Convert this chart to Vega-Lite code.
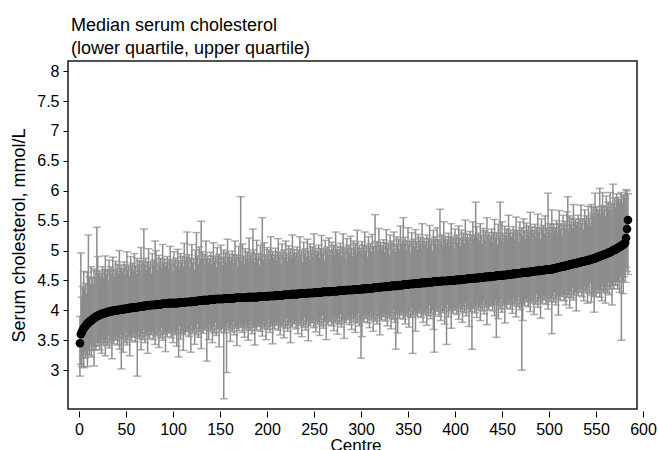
{
"$schema":"https://vega.github.io/schema/vega-lite/v6.json",
"width":569,"height":348,
"autosize":{"type":"none"},
"padding":{"left":68,"top":61,"right":21,"bottom":41},
"background":"white",
"config":{"font":"Liberation Sans","view":{"stroke":"#1a1a1a","strokeWidth":1.5},
 "axis":{"domain":false,"grid":false,"tickColor":"#000","tickWidth":1,"tickSize":6,"labelColor":"#000","labelFontSize":16,"titleColor":"#000","titleFontSize":17,"titleFontWeight":"normal","labelFont":"Liberation Sans","titleFont":"Liberation Sans","labelOverlap":false}},
"title":{"text":["Median serum cholesterol","(lower quartile, upper quartile)"],"anchor":"start","frame":"group","fontSize":18,"fontWeight":"normal","font":"Liberation Sans","color":"#000","offset":3,"lineHeight":23,"dx":3},
"data":{"values":[
{"c":1,"m":3.45,"l":2.90,"u":3.90},{"c":2,"m":3.60,"l":3.10,"u":4.96},{"c":3,"m":3.64,"l":3.06,"u":4.22},{"c":4,"m":3.67,"l":3.20,"u":4.40},{"c":5,"m":3.70,"l":3.04,"u":4.65},{"c":6,"m":3.72,"l":3.31,"u":4.36},{"c":7,"m":3.74,"l":3.21,"u":4.45},{"c":8,"m":3.76,"l":3.27,"u":4.28},{"c":9,"m":3.78,"l":3.06,"u":4.64},{"c":10,"m":3.79,"l":3.34,"u":5.26},
{"c":11,"m":3.81,"l":3.25,"u":4.56},{"c":12,"m":3.82,"l":3.43,"u":4.43},{"c":13,"m":3.83,"l":3.22,"u":4.73},{"c":14,"m":3.84,"l":3.33,"u":4.54},{"c":15,"m":3.86,"l":3.40,"u":4.42},{"c":16,"m":3.87,"l":3.07,"u":4.69},{"c":17,"m":3.88,"l":3.40,"u":4.54},{"c":18,"m":3.89,"l":3.34,"u":4.66},{"c":19,"m":3.90,"l":3.47,"u":5.39},{"c":20,"m":3.91,"l":3.41,"u":4.90},
{"c":21,"m":3.92,"l":3.48,"u":4.61},{"c":22,"m":3.92,"l":3.34,"u":4.66},{"c":23,"m":3.93,"l":3.46,"u":4.56},{"c":24,"m":3.94,"l":3.28,"u":4.62},{"c":25,"m":3.94,"l":3.53,"u":4.73},{"c":26,"m":3.95,"l":3.42,"u":4.53},{"c":27,"m":3.95,"l":3.46,"u":4.68},{"c":28,"m":3.96,"l":3.24,"u":4.91},{"c":29,"m":3.96,"l":3.51,"u":4.60},{"c":30,"m":3.97,"l":3.41,"u":4.68},
{"c":31,"m":3.97,"l":3.58,"u":4.49},{"c":32,"m":3.98,"l":3.37,"u":4.84},{"c":33,"m":3.98,"l":3.47,"u":4.65},{"c":34,"m":3.98,"l":3.52,"u":4.73},{"c":35,"m":3.99,"l":3.19,"u":4.60},{"c":36,"m":3.99,"l":3.51,"u":4.89},{"c":37,"m":3.99,"l":3.44,"u":4.69},{"c":38,"m":4.00,"l":3.57,"u":4.56},{"c":39,"m":4.00,"l":3.50,"u":4.82},{"c":40,"m":4.00,"l":3.56,"u":4.66},
{"c":41,"m":4.00,"l":3.42,"u":4.77},{"c":42,"m":4.01,"l":3.54,"u":4.61},{"c":43,"m":4.01,"l":3.35,"u":5.00},{"c":44,"m":4.01,"l":3.60,"u":4.70},{"c":45,"m":4.01,"l":3.02,"u":4.75},{"c":46,"m":4.02,"l":3.53,"u":4.65},{"c":47,"m":4.02,"l":3.30,"u":4.70},{"c":48,"m":4.02,"l":3.57,"u":4.81},{"c":49,"m":4.02,"l":3.46,"u":4.60},{"c":50,"m":4.03,"l":3.64,"u":4.76},
{"c":51,"m":4.03,"l":3.42,"u":4.98},{"c":52,"m":4.03,"l":3.52,"u":4.67},{"c":53,"m":4.03,"l":3.57,"u":4.74},{"c":54,"m":4.04,"l":3.24,"u":4.56},{"c":55,"m":4.04,"l":3.56,"u":4.90},{"c":56,"m":4.04,"l":3.49,"u":4.71},{"c":57,"m":4.04,"l":3.61,"u":4.79},{"c":58,"m":4.05,"l":3.55,"u":4.66},{"c":59,"m":4.05,"l":3.61,"u":4.95},{"c":60,"m":4.05,"l":3.47,"u":4.75},
{"c":61,"m":4.05,"l":3.58,"u":4.61},{"c":62,"m":4.05,"l":2.90,"u":4.87},{"c":63,"m":4.06,"l":3.65,"u":4.72},{"c":64,"m":4.06,"l":3.53,"u":4.83},{"c":65,"m":4.06,"l":3.57,"u":4.66},{"c":66,"m":4.06,"l":3.34,"u":5.05},{"c":67,"m":4.07,"l":3.62,"u":4.76},{"c":68,"m":4.07,"l":3.51,"u":4.81},{"c":69,"m":4.07,"l":3.68,"u":5.36},{"c":70,"m":4.07,"l":3.46,"u":4.75},
{"c":71,"m":4.08,"l":3.57,"u":4.87},{"c":72,"m":4.08,"l":3.62,"u":4.66},{"c":73,"m":4.08,"l":3.28,"u":4.81},{"c":74,"m":4.08,"l":3.60,"u":5.03},{"c":75,"m":4.08,"l":3.53,"u":4.72},{"c":76,"m":4.09,"l":3.66,"u":4.80},{"c":77,"m":4.09,"l":3.59,"u":4.61},{"c":78,"m":4.09,"l":3.65,"u":4.95},{"c":79,"m":4.09,"l":3.51,"u":4.76},{"c":80,"m":4.09,"l":3.62,"u":4.84},
{"c":81,"m":4.09,"l":3.43,"u":5.16},{"c":82,"m":4.10,"l":3.69,"u":5.00},{"c":83,"m":4.10,"l":3.57,"u":4.80},{"c":84,"m":4.10,"l":3.61,"u":4.66},{"c":85,"m":4.10,"l":3.38,"u":4.92},{"c":86,"m":4.10,"l":3.65,"u":4.76},{"c":87,"m":4.10,"l":3.54,"u":4.87},{"c":88,"m":4.11,"l":3.72,"u":4.71},{"c":89,"m":4.11,"l":3.50,"u":5.10},{"c":90,"m":4.11,"l":3.60,"u":4.80},
{"c":91,"m":4.11,"l":3.65,"u":4.85},{"c":92,"m":4.11,"l":3.31,"u":4.74},{"c":93,"m":4.11,"l":3.63,"u":4.79},{"c":94,"m":4.11,"l":3.56,"u":4.90},{"c":95,"m":4.12,"l":3.69,"u":4.70},{"c":96,"m":4.12,"l":3.62,"u":4.85},{"c":97,"m":4.12,"l":3.68,"u":5.07},{"c":98,"m":4.12,"l":3.54,"u":4.76},{"c":99,"m":4.12,"l":3.65,"u":4.83},{"c":100,"m":4.12,"l":3.46,"u":4.64},
{"c":101,"m":4.12,"l":3.71,"u":4.98},{"c":102,"m":4.12,"l":3.59,"u":4.79},{"c":103,"m":4.12,"l":3.63,"u":4.87},{"c":104,"m":4.12,"l":3.40,"u":4.73},{"c":105,"m":4.12,"l":3.67,"u":5.02},{"c":106,"m":4.13,"l":3.22,"u":4.83},{"c":107,"m":4.13,"l":3.74,"u":4.69},{"c":108,"m":4.13,"l":3.52,"u":4.95},{"c":109,"m":4.13,"l":3.62,"u":4.79},{"c":110,"m":4.13,"l":3.67,"u":4.90},
{"c":111,"m":4.13,"l":3.33,"u":4.73},{"c":112,"m":4.13,"l":3.65,"u":5.12},{"c":113,"m":4.14,"l":3.59,"u":4.83},{"c":114,"m":4.14,"l":3.71,"u":4.88},{"c":115,"m":4.14,"l":3.64,"u":5.31},{"c":116,"m":4.14,"l":3.70,"u":4.82},{"c":117,"m":4.14,"l":3.56,"u":4.93},{"c":118,"m":4.14,"l":3.67,"u":4.72},{"c":119,"m":4.14,"l":3.30,"u":4.87},{"c":120,"m":4.15,"l":3.74,"u":5.10},
{"c":121,"m":4.15,"l":3.62,"u":4.79},{"c":122,"m":4.15,"l":3.66,"u":4.86},{"c":123,"m":4.15,"l":3.43,"u":4.67},{"c":124,"m":4.15,"l":3.70,"u":5.01},{"c":125,"m":4.15,"l":3.59,"u":5.30},{"c":126,"m":4.16,"l":3.77,"u":4.91},{"c":127,"m":4.16,"l":3.55,"u":4.77},{"c":128,"m":4.16,"l":3.65,"u":5.06},{"c":129,"m":4.16,"l":3.70,"u":4.86},{"c":130,"m":4.16,"l":3.36,"u":5.49},
{"c":131,"m":4.16,"l":3.68,"u":4.98},{"c":132,"m":4.17,"l":3.62,"u":4.83},{"c":133,"m":4.17,"l":3.74,"u":4.94},{"c":134,"m":4.17,"l":3.67,"u":4.77},{"c":135,"m":4.17,"l":3.73,"u":5.16},{"c":136,"m":4.17,"l":3.15,"u":4.86},{"c":137,"m":4.17,"l":3.70,"u":4.91},{"c":138,"m":4.17,"l":3.51,"u":4.80},{"c":139,"m":4.18,"l":3.77,"u":4.86},{"c":140,"m":4.18,"l":3.65,"u":4.97},
{"c":141,"m":4.18,"l":3.69,"u":4.76},{"c":142,"m":4.18,"l":3.46,"u":4.91},{"c":143,"m":4.18,"l":3.73,"u":5.13},{"c":144,"m":4.18,"l":3.62,"u":4.82},{"c":145,"m":4.19,"l":3.80,"u":4.90},{"c":146,"m":4.19,"l":3.58,"u":4.71},{"c":147,"m":4.19,"l":3.68,"u":5.05},{"c":148,"m":4.19,"l":3.73,"u":4.86},{"c":149,"m":4.19,"l":3.39,"u":4.94},{"c":150,"m":4.19,"l":3.71,"u":4.80},
{"c":151,"m":4.19,"l":3.64,"u":5.09},{"c":152,"m":4.19,"l":3.76,"u":4.89},{"c":153,"m":4.19,"l":3.69,"u":4.75},{"c":154,"m":4.19,"l":2.52,"u":5.01},{"c":155,"m":4.20,"l":3.62,"u":4.86},{"c":156,"m":4.20,"l":3.73,"u":4.97},{"c":157,"m":4.20,"l":2.96,"u":4.80},{"c":158,"m":4.20,"l":3.79,"u":5.19},{"c":159,"m":4.20,"l":3.67,"u":4.89},{"c":160,"m":4.20,"l":3.71,"u":4.94},
{"c":161,"m":4.20,"l":3.48,"u":4.83},{"c":162,"m":4.20,"l":3.75,"u":4.88},{"c":163,"m":4.20,"l":3.64,"u":4.99},{"c":164,"m":4.20,"l":3.81,"u":4.78},{"c":165,"m":4.20,"l":3.59,"u":4.93},{"c":166,"m":4.21,"l":3.70,"u":5.16},{"c":167,"m":4.21,"l":3.75,"u":4.85},{"c":168,"m":4.21,"l":3.41,"u":4.92},{"c":169,"m":4.21,"l":3.73,"u":4.73},{"c":170,"m":4.21,"l":3.66,"u":5.07},
{"c":171,"m":4.21,"l":3.78,"u":4.88},{"c":172,"m":4.21,"l":3.71,"u":5.90},{"c":173,"m":4.21,"l":3.77,"u":4.82},{"c":174,"m":4.21,"l":3.63,"u":5.11},{"c":175,"m":4.21,"l":3.74,"u":4.91},{"c":176,"m":4.21,"l":3.55,"u":4.77},{"c":177,"m":4.21,"l":3.80,"u":5.03},{"c":178,"m":4.21,"l":3.68,"u":4.87},{"c":179,"m":4.21,"l":3.72,"u":4.98},{"c":180,"m":4.22,"l":3.50,"u":4.82},
{"c":181,"m":4.22,"l":3.77,"u":5.21},{"c":182,"m":4.22,"l":3.66,"u":4.91},{"c":183,"m":4.22,"l":3.83,"u":4.96},{"c":184,"m":4.22,"l":3.61,"u":4.85},{"c":185,"m":4.22,"l":3.71,"u":5.36},{"c":186,"m":4.22,"l":3.76,"u":5.01},{"c":187,"m":4.22,"l":3.42,"u":4.80},{"c":188,"m":4.22,"l":3.74,"u":4.95},{"c":189,"m":4.22,"l":3.67,"u":5.17},{"c":190,"m":4.22,"l":3.79,"u":4.86},
{"c":191,"m":4.23,"l":3.73,"u":4.94},{"c":192,"m":4.23,"l":3.79,"u":4.75},{"c":193,"m":4.23,"l":3.65,"u":5.09},{"c":194,"m":4.23,"l":3.76,"u":4.90},{"c":195,"m":4.23,"l":3.57,"u":5.55},{"c":196,"m":4.23,"l":3.82,"u":4.84},{"c":197,"m":4.23,"l":3.70,"u":5.13},{"c":198,"m":4.23,"l":3.74,"u":4.93},{"c":199,"m":4.23,"l":3.51,"u":4.79},{"c":200,"m":4.23,"l":3.78,"u":5.05},
{"c":201,"m":4.24,"l":3.68,"u":4.90},{"c":202,"m":4.24,"l":3.85,"u":5.01},{"c":203,"m":4.24,"l":3.63,"u":4.84},{"c":204,"m":4.24,"l":3.73,"u":5.23},{"c":205,"m":4.24,"l":3.78,"u":4.93},{"c":206,"m":4.24,"l":3.44,"u":4.98},{"c":207,"m":4.24,"l":3.76,"u":4.87},{"c":208,"m":4.24,"l":3.69,"u":4.92},{"c":209,"m":4.25,"l":3.82,"u":5.04},{"c":210,"m":4.25,"l":3.75,"u":4.83},
{"c":211,"m":4.25,"l":3.81,"u":4.98},{"c":212,"m":4.25,"l":3.67,"u":5.20},{"c":213,"m":4.25,"l":3.78,"u":4.89},{"c":214,"m":4.25,"l":3.59,"u":4.96},{"c":215,"m":4.25,"l":3.84,"u":4.77},{"c":216,"m":4.25,"l":3.72,"u":5.11},{"c":217,"m":4.25,"l":3.76,"u":4.92},{"c":218,"m":4.26,"l":3.54,"u":5.01},{"c":219,"m":4.26,"l":3.81,"u":4.87},{"c":220,"m":4.26,"l":3.70,"u":5.16},
{"c":221,"m":4.26,"l":3.87,"u":4.96},{"c":222,"m":4.26,"l":3.65,"u":4.82},{"c":223,"m":4.26,"l":3.75,"u":5.08},{"c":224,"m":4.26,"l":3.80,"u":4.92},{"c":225,"m":4.26,"l":3.46,"u":5.03},{"c":226,"m":4.27,"l":3.79,"u":4.87},{"c":227,"m":4.27,"l":3.72,"u":5.26},{"c":228,"m":4.27,"l":3.84,"u":4.96},{"c":229,"m":4.27,"l":3.77,"u":5.01},{"c":230,"m":4.27,"l":3.83,"u":4.90},
{"c":231,"m":4.27,"l":3.69,"u":4.95},{"c":232,"m":4.27,"l":3.80,"u":5.06},{"c":233,"m":4.27,"l":3.61,"u":4.85},{"c":234,"m":4.28,"l":3.87,"u":5.01},{"c":235,"m":4.28,"l":3.75,"u":5.23},{"c":236,"m":4.28,"l":3.79,"u":4.92},{"c":237,"m":4.28,"l":3.56,"u":4.99},{"c":238,"m":4.28,"l":3.83,"u":4.80},{"c":239,"m":4.28,"l":3.72,"u":5.14},{"c":240,"m":4.28,"l":3.89,"u":4.95},
{"c":241,"m":4.28,"l":3.67,"u":5.03},{"c":242,"m":4.28,"l":3.77,"u":4.89},{"c":243,"m":4.29,"l":3.83,"u":5.19},{"c":244,"m":4.29,"l":3.49,"u":4.99},{"c":245,"m":4.29,"l":3.81,"u":4.85},{"c":246,"m":4.29,"l":3.74,"u":5.11},{"c":247,"m":4.29,"l":3.86,"u":4.95},{"c":248,"m":4.29,"l":3.79,"u":5.06},{"c":249,"m":4.29,"l":3.85,"u":4.89},{"c":250,"m":4.29,"l":3.71,"u":5.28},
{"c":251,"m":4.30,"l":3.83,"u":4.99},{"c":252,"m":4.30,"l":3.64,"u":5.04},{"c":253,"m":4.30,"l":3.89,"u":4.93},{"c":254,"m":4.30,"l":3.77,"u":4.98},{"c":255,"m":4.30,"l":3.81,"u":5.09},{"c":256,"m":4.30,"l":3.58,"u":4.88},{"c":257,"m":4.30,"l":3.85,"u":5.03},{"c":258,"m":4.30,"l":3.74,"u":5.25},{"c":259,"m":4.31,"l":3.92,"u":4.95},{"c":260,"m":4.31,"l":3.70,"u":5.02},
{"c":261,"m":4.31,"l":3.80,"u":4.83},{"c":262,"m":4.31,"l":3.85,"u":5.17},{"c":263,"m":4.31,"l":3.51,"u":4.98},{"c":264,"m":4.31,"l":3.83,"u":5.06},{"c":265,"m":4.31,"l":3.76,"u":4.92},{"c":266,"m":4.31,"l":3.88,"u":5.21},{"c":267,"m":4.31,"l":3.81,"u":5.01},{"c":268,"m":4.32,"l":3.88,"u":4.88},{"c":269,"m":4.32,"l":3.74,"u":5.14},{"c":270,"m":4.32,"l":3.85,"u":4.98},
{"c":271,"m":4.32,"l":3.66,"u":5.09},{"c":272,"m":4.32,"l":3.91,"u":4.92},{"c":273,"m":4.32,"l":3.79,"u":5.31},{"c":274,"m":4.32,"l":3.83,"u":5.01},{"c":275,"m":4.32,"l":3.60,"u":5.06},{"c":276,"m":4.33,"l":3.88,"u":4.96},{"c":277,"m":4.33,"l":3.77,"u":5.01},{"c":278,"m":4.33,"l":3.94,"u":5.12},{"c":279,"m":4.33,"l":3.72,"u":4.91},{"c":280,"m":4.33,"l":3.82,"u":5.06},
{"c":281,"m":4.33,"l":3.87,"u":5.28},{"c":282,"m":4.33,"l":3.53,"u":4.97},{"c":283,"m":4.33,"l":3.85,"u":5.04},{"c":284,"m":4.34,"l":3.79,"u":4.86},{"c":285,"m":4.34,"l":3.91,"u":5.20},{"c":286,"m":4.34,"l":3.84,"u":5.01},{"c":287,"m":4.34,"l":3.90,"u":5.09},{"c":288,"m":4.34,"l":3.76,"u":4.95},{"c":289,"m":4.34,"l":3.87,"u":5.24},{"c":290,"m":4.34,"l":3.68,"u":5.04},
{"c":291,"m":4.34,"l":3.93,"u":4.90},{"c":292,"m":4.34,"l":3.81,"u":5.16},{"c":293,"m":4.35,"l":3.86,"u":5.01},{"c":294,"m":4.35,"l":3.63,"u":5.12},{"c":295,"m":4.35,"l":3.90,"u":4.95},{"c":296,"m":4.35,"l":3.79,"u":5.34},{"c":297,"m":4.35,"l":3.96,"u":5.04},{"c":298,"m":4.35,"l":3.74,"u":5.09},{"c":299,"m":4.35,"l":3.84,"u":4.98},{"c":300,"m":4.35,"l":3.20,"u":5.03},
{"c":301,"m":4.36,"l":3.56,"u":5.15},{"c":302,"m":4.36,"l":3.88,"u":4.94},{"c":303,"m":4.36,"l":3.81,"u":5.09},{"c":304,"m":4.36,"l":3.93,"u":5.31},{"c":305,"m":4.36,"l":3.86,"u":5.00},{"c":306,"m":4.36,"l":3.92,"u":5.07},{"c":307,"m":4.37,"l":3.79,"u":4.89},{"c":308,"m":4.37,"l":3.90,"u":5.23},{"c":309,"m":4.37,"l":3.71,"u":5.04},{"c":310,"m":4.37,"l":3.96,"u":5.12},
{"c":311,"m":4.37,"l":3.84,"u":4.98},{"c":312,"m":4.37,"l":3.88,"u":5.27},{"c":313,"m":4.37,"l":3.65,"u":5.07},{"c":314,"m":4.38,"l":3.93,"u":4.94},{"c":315,"m":4.38,"l":3.82,"u":5.60},{"c":316,"m":4.38,"l":3.99,"u":5.04},{"c":317,"m":4.38,"l":3.77,"u":5.15},{"c":318,"m":4.38,"l":3.87,"u":4.98},{"c":319,"m":4.38,"l":3.92,"u":5.37},{"c":320,"m":4.39,"l":3.59,"u":5.08},
{"c":321,"m":4.39,"l":3.91,"u":5.13},{"c":322,"m":4.39,"l":3.84,"u":5.02},{"c":323,"m":4.39,"l":3.96,"u":5.07},{"c":324,"m":4.39,"l":3.89,"u":5.18},{"c":325,"m":4.39,"l":3.95,"u":4.97},{"c":326,"m":4.40,"l":3.82,"u":5.13},{"c":327,"m":4.40,"l":3.93,"u":5.35},{"c":328,"m":4.40,"l":3.74,"u":5.04},{"c":329,"m":4.40,"l":3.99,"u":5.11},{"c":330,"m":4.40,"l":3.87,"u":4.92},
{"c":331,"m":4.40,"l":3.91,"u":5.26},{"c":332,"m":4.41,"l":3.69,"u":5.08},{"c":333,"m":4.41,"l":3.96,"u":5.16},{"c":334,"m":4.41,"l":3.85,"u":5.02},{"c":335,"m":4.41,"l":4.02,"u":5.31},{"c":336,"m":4.41,"l":3.80,"u":5.11},{"c":337,"m":4.41,"l":3.35,"u":4.97},{"c":338,"m":4.41,"l":3.95,"u":5.23},{"c":339,"m":4.42,"l":3.62,"u":5.08},{"c":340,"m":4.42,"l":3.94,"u":5.19},
{"c":341,"m":4.42,"l":3.87,"u":5.02},{"c":342,"m":4.42,"l":3.99,"u":5.41},{"c":343,"m":4.42,"l":3.92,"u":5.11},{"c":344,"m":4.42,"l":3.98,"u":5.16},{"c":345,"m":4.43,"l":3.85,"u":5.55},{"c":346,"m":4.43,"l":3.96,"u":5.11},{"c":347,"m":4.43,"l":3.77,"u":5.22},{"c":348,"m":4.43,"l":4.02,"u":5.01},{"c":349,"m":4.43,"l":3.90,"u":5.16},{"c":350,"m":4.43,"l":3.94,"u":5.38},
{"c":351,"m":4.44,"l":3.72,"u":5.08},{"c":352,"m":4.44,"l":3.99,"u":5.15},{"c":353,"m":4.44,"l":3.88,"u":4.96},{"c":354,"m":4.44,"l":4.05,"u":5.30},{"c":355,"m":4.44,"l":3.28,"u":5.11},{"c":356,"m":4.44,"l":3.93,"u":5.19},{"c":357,"m":4.45,"l":3.99,"u":5.06},{"c":358,"m":4.45,"l":3.65,"u":5.35},{"c":359,"m":4.45,"l":3.97,"u":5.15},{"c":360,"m":4.45,"l":3.90,"u":5.01},
{"c":361,"m":4.45,"l":4.02,"u":5.27},{"c":362,"m":4.45,"l":3.95,"u":5.11},{"c":363,"m":4.45,"l":4.01,"u":5.22},{"c":364,"m":4.46,"l":3.88,"u":5.06},{"c":365,"m":4.46,"l":3.99,"u":5.45},{"c":366,"m":4.46,"l":3.80,"u":5.15},{"c":367,"m":4.46,"l":4.05,"u":5.20},{"c":368,"m":4.46,"l":3.93,"u":5.09},{"c":369,"m":4.46,"l":3.97,"u":5.14},{"c":370,"m":4.47,"l":3.75,"u":5.26},
{"c":371,"m":4.47,"l":4.02,"u":5.05},{"c":372,"m":4.47,"l":3.91,"u":5.20},{"c":373,"m":4.47,"l":4.08,"u":5.42},{"c":374,"m":4.47,"l":3.86,"u":5.11},{"c":375,"m":4.47,"l":3.96,"u":5.18},{"c":376,"m":4.47,"l":4.01,"u":4.99},{"c":377,"m":4.48,"l":3.68,"u":5.34},{"c":378,"m":4.48,"l":3.30,"u":5.15},{"c":379,"m":4.48,"l":3.93,"u":5.23},{"c":380,"m":4.48,"l":4.05,"u":5.09},
{"c":381,"m":4.48,"l":3.98,"u":5.38},{"c":382,"m":4.48,"l":4.04,"u":5.18},{"c":383,"m":4.48,"l":3.90,"u":5.04},{"c":384,"m":4.48,"l":4.01,"u":5.69},{"c":385,"m":4.49,"l":3.83,"u":5.15},{"c":386,"m":4.49,"l":4.08,"u":5.26},{"c":387,"m":4.49,"l":3.96,"u":5.09},{"c":388,"m":4.49,"l":4.00,"u":5.48},{"c":389,"m":4.49,"l":3.77,"u":5.18},{"c":390,"m":4.49,"l":4.04,"u":5.23},
{"c":391,"m":4.49,"l":3.43,"u":5.12},{"c":392,"m":4.49,"l":4.10,"u":5.17},{"c":393,"m":4.50,"l":3.89,"u":5.29},{"c":394,"m":4.50,"l":3.99,"u":5.08},{"c":395,"m":4.50,"l":4.04,"u":5.23},{"c":396,"m":4.50,"l":3.70,"u":5.45},{"c":397,"m":4.50,"l":4.02,"u":5.14},{"c":398,"m":4.50,"l":3.95,"u":5.21},{"c":399,"m":4.50,"l":4.07,"u":5.02},{"c":400,"m":4.50,"l":4.00,"u":5.36},
{"c":401,"m":4.51,"l":4.07,"u":5.18},{"c":402,"m":4.51,"l":3.93,"u":5.26},{"c":403,"m":4.51,"l":4.04,"u":5.12},{"c":404,"m":4.51,"l":3.85,"u":5.41},{"c":405,"m":4.51,"l":4.10,"u":5.21},{"c":406,"m":4.51,"l":3.98,"u":5.07},{"c":407,"m":4.52,"l":4.03,"u":5.34},{"c":408,"m":4.52,"l":3.80,"u":5.18},{"c":409,"m":4.52,"l":4.07,"u":5.29},{"c":410,"m":4.52,"l":3.96,"u":5.12},
{"c":411,"m":4.52,"l":4.13,"u":5.51},{"c":412,"m":4.52,"l":3.91,"u":5.21},{"c":413,"m":4.53,"l":4.02,"u":5.27},{"c":414,"m":4.53,"l":4.07,"u":5.16},{"c":415,"m":4.53,"l":3.73,"u":5.21},{"c":416,"m":4.53,"l":4.05,"u":5.32},{"c":417,"m":4.53,"l":3.98,"u":5.11},{"c":418,"m":4.53,"l":3.35,"u":5.26},{"c":419,"m":4.53,"l":4.03,"u":5.48},{"c":420,"m":4.54,"l":4.10,"u":5.18},
{"c":421,"m":4.54,"l":3.96,"u":5.25},{"c":422,"m":4.54,"l":4.07,"u":5.81},{"c":423,"m":4.54,"l":3.88,"u":5.40},{"c":424,"m":4.54,"l":4.13,"u":5.21},{"c":425,"m":4.54,"l":4.01,"u":5.29},{"c":426,"m":4.55,"l":4.06,"u":5.16},{"c":427,"m":4.55,"l":3.83,"u":5.45},{"c":428,"m":4.55,"l":4.10,"u":5.25},{"c":429,"m":4.55,"l":3.99,"u":5.11},{"c":430,"m":4.55,"l":4.16,"u":5.37},
{"c":431,"m":4.55,"l":3.94,"u":5.21},{"c":432,"m":4.56,"l":4.05,"u":5.33},{"c":433,"m":4.56,"l":4.10,"u":5.16},{"c":434,"m":4.56,"l":3.76,"u":5.55},{"c":435,"m":4.56,"l":4.08,"u":5.25},{"c":436,"m":4.56,"l":4.01,"u":5.30},{"c":437,"m":4.56,"l":4.13,"u":5.19},{"c":438,"m":4.57,"l":4.07,"u":5.25},{"c":439,"m":4.57,"l":4.13,"u":5.36},{"c":440,"m":4.57,"l":3.99,"u":5.15},
{"c":441,"m":4.57,"l":4.10,"u":5.30},{"c":442,"m":4.57,"l":3.91,"u":5.52},{"c":443,"m":4.57,"l":4.16,"u":5.21},{"c":444,"m":4.58,"l":3.55,"u":5.29},{"c":445,"m":4.58,"l":4.09,"u":5.10},{"c":446,"m":4.58,"l":3.86,"u":5.44},{"c":447,"m":4.58,"l":4.13,"u":5.25},{"c":448,"m":4.58,"l":4.02,"u":5.81},{"c":449,"m":4.58,"l":4.19,"u":5.19},{"c":450,"m":4.58,"l":3.97,"u":5.48},
{"c":451,"m":4.59,"l":4.08,"u":5.29},{"c":452,"m":4.59,"l":4.13,"u":5.15},{"c":453,"m":4.59,"l":3.79,"u":5.41},{"c":454,"m":4.59,"l":4.11,"u":5.25},{"c":455,"m":4.59,"l":4.04,"u":5.36},{"c":456,"m":4.60,"l":4.17,"u":5.20},{"c":457,"m":4.60,"l":4.10,"u":5.59},{"c":458,"m":4.60,"l":4.16,"u":5.29},{"c":459,"m":4.60,"l":4.02,"u":5.34},{"c":460,"m":4.60,"l":4.13,"u":5.23},
{"c":461,"m":4.61,"l":3.95,"u":5.29},{"c":462,"m":4.61,"l":4.20,"u":5.40},{"c":463,"m":4.61,"l":4.08,"u":5.19},{"c":464,"m":4.61,"l":4.12,"u":5.34},{"c":465,"m":4.61,"l":3.89,"u":5.56},{"c":466,"m":4.62,"l":4.17,"u":5.26},{"c":467,"m":4.62,"l":4.06,"u":5.33},{"c":468,"m":4.62,"l":4.23,"u":5.14},{"c":469,"m":4.62,"l":4.01,"u":5.48},{"c":470,"m":4.62,"l":4.11,"u":5.29},
{"c":471,"m":4.63,"l":3.00,"u":5.38},{"c":472,"m":4.63,"l":3.83,"u":5.24},{"c":473,"m":4.63,"l":4.15,"u":5.53},{"c":474,"m":4.63,"l":4.08,"u":5.33},{"c":475,"m":4.63,"l":4.20,"u":5.19},{"c":476,"m":4.64,"l":4.14,"u":5.46},{"c":477,"m":4.64,"l":4.20,"u":5.30},{"c":478,"m":4.64,"l":4.06,"u":5.41},{"c":479,"m":4.64,"l":4.17,"u":5.24},{"c":480,"m":4.64,"l":3.98,"u":5.64},
{"c":481,"m":4.65,"l":4.24,"u":5.34},{"c":482,"m":4.65,"l":4.12,"u":5.39},{"c":483,"m":4.65,"l":4.16,"u":5.28},{"c":484,"m":4.65,"l":3.93,"u":5.33},{"c":485,"m":4.65,"l":4.20,"u":5.44},{"c":486,"m":4.66,"l":4.10,"u":5.24},{"c":487,"m":4.66,"l":4.27,"u":5.39},{"c":488,"m":4.66,"l":4.05,"u":5.61},{"c":489,"m":4.66,"l":4.15,"u":5.30},{"c":490,"m":4.66,"l":4.20,"u":5.37},
{"c":491,"m":4.67,"l":3.87,"u":5.19},{"c":492,"m":4.67,"l":4.19,"u":5.53},{"c":493,"m":4.67,"l":4.12,"u":5.34},{"c":494,"m":4.67,"l":4.24,"u":5.42},{"c":495,"m":4.67,"l":4.17,"u":5.28},{"c":496,"m":4.68,"l":4.24,"u":5.58},{"c":497,"m":4.68,"l":4.10,"u":5.38},{"c":498,"m":4.68,"l":4.21,"u":5.24},{"c":499,"m":4.68,"l":4.02,"u":5.96},{"c":500,"m":4.68,"l":4.27,"u":5.34},
{"c":501,"m":4.68,"l":4.15,"u":5.45},{"c":502,"m":4.69,"l":4.20,"u":5.29},{"c":503,"m":4.69,"l":3.61,"u":5.68},{"c":504,"m":4.69,"l":4.24,"u":5.38},{"c":505,"m":4.70,"l":4.14,"u":5.44},{"c":506,"m":4.70,"l":4.31,"u":5.33},{"c":507,"m":4.70,"l":4.09,"u":5.38},{"c":508,"m":4.71,"l":4.20,"u":5.50},{"c":509,"m":4.71,"l":4.25,"u":5.29},{"c":510,"m":4.72,"l":3.92,"u":5.45},
{"c":511,"m":4.72,"l":4.24,"u":5.67},{"c":512,"m":4.72,"l":4.17,"u":5.36},{"c":513,"m":4.73,"l":4.30,"u":5.44},{"c":514,"m":4.73,"l":4.23,"u":5.25},{"c":515,"m":4.73,"l":4.29,"u":5.59},{"c":516,"m":4.74,"l":4.16,"u":5.41},{"c":517,"m":4.74,"l":4.27,"u":5.49},{"c":518,"m":4.75,"l":4.09,"u":5.36},{"c":519,"m":4.75,"l":4.34,"u":5.65},{"c":520,"m":4.75,"l":4.22,"u":5.90},
{"c":521,"m":4.76,"l":4.27,"u":5.32},{"c":522,"m":4.76,"l":4.04,"u":5.58},{"c":523,"m":4.77,"l":4.32,"u":5.43},{"c":524,"m":4.77,"l":4.21,"u":5.54},{"c":525,"m":4.77,"l":4.38,"u":5.37},{"c":526,"m":4.78,"l":4.17,"u":5.77},{"c":527,"m":4.78,"l":4.27,"u":5.47},{"c":528,"m":4.78,"l":4.32,"u":5.52},{"c":529,"m":4.79,"l":3.99,"u":5.42},{"c":530,"m":4.79,"l":4.31,"u":5.47},
{"c":531,"m":4.80,"l":4.25,"u":5.59},{"c":532,"m":4.80,"l":4.37,"u":5.38},{"c":533,"m":4.80,"l":4.30,"u":5.53},{"c":534,"m":4.81,"l":4.37,"u":5.76},{"c":535,"m":4.81,"l":4.23,"u":5.45},{"c":536,"m":4.82,"l":4.35,"u":5.53},{"c":537,"m":4.82,"l":4.16,"u":5.34},{"c":538,"m":4.82,"l":4.41,"u":5.68},{"c":539,"m":4.83,"l":4.30,"u":5.50},{"c":540,"m":4.83,"l":4.34,"u":5.58},
{"c":541,"m":4.84,"l":4.12,"u":5.45},{"c":542,"m":4.84,"l":4.39,"u":5.74},{"c":543,"m":4.84,"l":4.28,"u":5.54},{"c":544,"m":4.85,"l":4.46,"u":5.41},{"c":545,"m":4.85,"l":4.14,"u":5.77},{"c":546,"m":4.86,"l":4.25,"u":5.62},{"c":547,"m":4.86,"l":4.30,"u":5.73},{"c":548,"m":4.87,"l":3.97,"u":5.57},{"c":549,"m":4.87,"l":4.29,"u":5.96},{"c":550,"m":4.88,"l":4.23,"u":5.67},
{"c":551,"m":4.89,"l":4.36,"u":5.73},{"c":552,"m":4.89,"l":4.29,"u":5.62},{"c":553,"m":4.90,"l":4.36,"u":5.68},{"c":554,"m":4.90,"l":4.22,"u":6.04},{"c":555,"m":4.91,"l":4.34,"u":5.59},{"c":556,"m":4.92,"l":4.16,"u":5.75},{"c":557,"m":4.92,"l":4.41,"u":5.97},{"c":558,"m":4.93,"l":4.30,"u":5.67},{"c":559,"m":4.93,"l":4.34,"u":5.74},{"c":560,"m":4.94,"l":4.12,"u":5.56},
{"c":561,"m":4.95,"l":4.40,"u":5.91},{"c":562,"m":4.95,"l":4.29,"u":5.72},{"c":563,"m":4.96,"l":4.47,"u":5.81},{"c":564,"m":4.97,"l":4.26,"u":5.68},{"c":565,"m":4.97,"l":4.36,"u":5.97},{"c":566,"m":4.98,"l":4.42,"u":5.78},{"c":567,"m":4.99,"l":4.09,"u":5.65},{"c":568,"m":5.00,"l":4.42,"u":6.11},{"c":569,"m":5.01,"l":4.36,"u":5.77},{"c":570,"m":5.01,"l":4.48,"u":5.88},
{"c":571,"m":5.02,"l":4.42,"u":5.72},{"c":572,"m":5.03,"l":4.49,"u":5.95},{"c":573,"m":5.04,"l":4.36,"u":5.83},{"c":574,"m":5.05,"l":4.48,"u":5.89},{"c":575,"m":5.06,"l":4.30,"u":5.79},{"c":576,"m":5.07,"l":4.56,"u":5.85},{"c":577,"m":5.08,"l":3.50,"u":5.97},{"c":578,"m":5.09,"l":4.50,"u":5.77},{"c":579,"m":5.10,"l":4.28,"u":5.93},{"c":580,"m":5.11,"l":4.56,"u":5.92},
{"c":581,"m":5.13,"l":4.47,"u":5.87},{"c":582,"m":5.21,"l":4.72,"u":6.02},{"c":583,"m":5.36,"l":4.65,"u":6.00},{"c":584,"m":5.51,"l":4.60,"u":5.95}
]},
"layer":[
{"mark":{"type":"errorbar","color":"#8c8c8c","thickness":1.5,"size":8,"ticks":true},
 "encoding":{
  "x":{"field":"c","type":"quantitative","title":"Centre","scale":{"domain":[-11.7,600],"range":[0,575],"nice":false,"zero":false},
       "axis":{"values":[0,50,100,150,200,250,300,350,400,450,500,550,600],"format":"d","offset":2,"labelPadding":4,"titlePadding":0,"labelFlush":false}},
  "y":{"field":"l","type":"quantitative","title":"Serum cholesterol, mmol/L","scale":{"domain":[2.35,8.17],"nice":false,"zero":false},
       "axis":{"values":[3,3.5,4,4.5,5,5.5,6,6.5,7,7.5,8],"format":".1~f","tickSize":5,"labelPadding":4,"titlePadding":8,"titleFontSize":18}},
  "y2":{"field":"u"}}},
{"mark":{"type":"circle","size":75,"color":"#000","opacity":1},
 "encoding":{
  "x":{"field":"c","type":"quantitative","title":"Centre","axis":{"values":[0,50,100,150,200,250,300,350,400,450,500,550,600],"format":"d","offset":2,"labelPadding":4,"titlePadding":0,"labelFlush":false}},
  "y":{"field":"m","type":"quantitative","title":"Serum cholesterol, mmol/L","axis":{"values":[3,3.5,4,4.5,5,5.5,6,6.5,7,7.5,8],"format":".1~f","tickSize":5,"labelPadding":4,"titlePadding":8,"titleFontSize":18}}}}
]
}
